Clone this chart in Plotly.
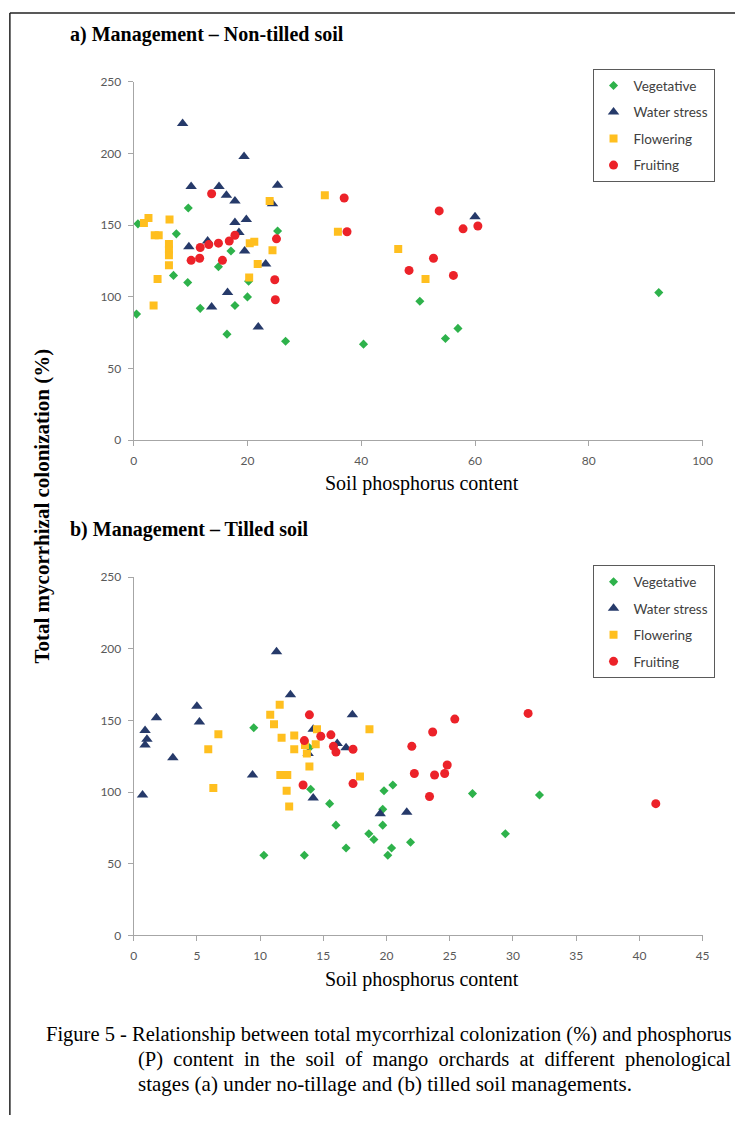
import plotly.graph_objects as go

# ---------------- Data: (a) Non-tilled soil ----------------
a_veg_x = [0.75, 0.5, 9.6, 7.5, 7.0, 9.5, 11.7, 17.1, 14.9, 17.8, 20.0, 25.3, 20.2, 16.4, 26.7, 50.3, 57.0, 54.8, 40.4, 92.3]
a_veg_y = [151, 88, 162, 144, 115, 110, 92, 132, 121, 94, 100, 146, 111, 74, 69, 97, 78, 71, 67, 103]

a_ws_x = [8.6, 19.4, 10.1, 15.0, 16.3, 17.8, 25.3, 24.4, 17.8, 19.8, 18.5, 13.0, 9.7, 19.5, 23.2, 16.5, 13.7, 21.9, 60.0]
a_ws_y = [221, 198, 177, 177, 171, 167, 178, 165, 152, 154, 145, 139, 135, 132, 123, 103, 93, 79, 156]

a_fl_x = [2.6, 1.8, 6.3, 3.7, 4.4, 6.2, 6.2, 6.2, 6.2, 4.2, 3.5, 23.9, 20.4, 21.2, 24.4, 21.8, 20.3, 33.6, 35.9, 46.5, 51.3]
a_fl_y = [155, 151.5, 154, 143, 143, 137, 133, 129, 122, 112.5, 94, 167, 137.5, 138.5, 132.5, 123, 113.5, 171, 145.5, 133.5, 112.5]

a_fr_x = [13.7, 17.8, 16.8, 14.9, 13.2, 11.7, 25.1, 10.1, 11.6, 15.6, 24.8, 24.9, 37.0, 53.7, 37.5, 57.9, 60.5, 52.7, 48.4, 56.2]
a_fr_y = [172, 143, 139, 137.5, 136.5, 134.5, 140.5, 125.5, 127, 125.5, 112, 98, 169, 160, 145.5, 147.5, 149.5, 127, 118.5, 115]

# ---------------- Data: (b) Tilled soil ----------------
b_veg_x = [9.5, 10.3, 13.9, 14.0, 15.5, 16.0, 13.5, 16.8, 18.6, 19.0, 19.7, 19.7, 19.8, 20.5, 20.4, 20.1, 21.9, 26.8, 32.1, 29.4]
b_veg_y = [145, 56, 131, 102, 92, 77, 56, 61, 71, 67, 88, 77, 101, 105, 61, 56, 65, 99, 98, 71]

b_ws_x = [11.3, 12.4, 5.0, 1.8, 5.2, 0.9, 1.05, 0.9, 3.1, 9.4, 0.7, 17.3, 14.2, 16.1, 16.8, 13.8, 14.2, 19.5, 21.6]
b_ws_y = [198, 168, 160, 152, 149, 143, 137, 133, 124, 112, 98, 154, 144, 134, 131, 127, 96, 85, 86]

b_fl_x = [11.55, 10.8, 11.1, 6.7, 11.7, 12.7, 5.9, 12.7, 11.6, 12.15, 12.1, 12.3, 6.3, 14.5, 18.65, 14.4, 13.55, 13.7, 13.9, 17.9]
b_fl_y = [161, 154, 147.5, 140.5, 138, 139.5, 130, 130, 112, 112, 101, 90, 103, 144, 144, 133.5, 133, 127, 118, 111]

b_fr_x = [13.9, 14.8, 15.6, 13.5, 15.8, 16.0, 17.35, 22.0, 23.65, 25.4, 13.4, 17.35, 22.2, 23.8, 24.8, 24.6, 23.4, 31.2, 41.3]
b_fr_y = [154, 139, 140, 136, 132, 128, 130, 132, 142, 151, 105, 106, 113, 112, 119, 113, 97, 155, 92]

series_names = ["Vegetative", "Water stress", "Flowering", "Fruiting"]
x_ticks_a = [0, 20, 40, 60, 80, 100]
x_ticks_b = [0, 5, 10, 15, 20, 25, 30, 35, 40, 45]
y_ticks = [0, 50, 100, 150, 200, 250]

styles = [
    dict(symbol="diamond", color="#2eb24b", size=7),
    dict(symbol="triangle-up", color="#263a6a", size=10),
    dict(symbol="square", color="#ffbf1f", size=8),
    dict(symbol="circle", color="#ec2229", size=9),
]

fig = go.Figure()

a_sets = [(a_veg_x, a_veg_y), (a_ws_x, a_ws_y), (a_fl_x, a_fl_y), (a_fr_x, a_fr_y)]
b_sets = [(b_veg_x, b_veg_y), (b_ws_x, b_ws_y), (b_fl_x, b_fl_y), (b_fr_x, b_fr_y)]

for i, (name, (xs, ys)) in enumerate(zip(series_names, a_sets)):
    st = styles[i]
    fig.add_trace(go.Scatter(x=xs, y=ys, mode="markers", name=name,
                             marker=dict(symbol=st["symbol"], color=st["color"], size=st["size"]),
                             xaxis="x", yaxis="y", legend="legend", legendgroup="a%d" % i))
for i, (name, (xs, ys)) in enumerate(zip(series_names, b_sets)):
    st = styles[i]
    fig.add_trace(go.Scatter(x=xs, y=ys, mode="markers", name=name,
                             marker=dict(symbol=st["symbol"], color=st["color"], size=st["size"]),
                             xaxis="x2", yaxis="y2", legend="legend2", legendgroup="b%d" % i))

W, H = 745, 1122
def px_x(p):
    return p / W
def px_y(p):
    return 1 - p / H

axis_common = dict(showgrid=False, zeroline=False, showline=True, linecolor="#a6a6a6", linewidth=1,
                   ticks="outside", ticklen=5, tickcolor="#a6a6a6",
                   tickfont=dict(family="Lato", size=12, color="#595959"))

legend_common = dict(xanchor="left", yanchor="top", bgcolor="white", bordercolor="#5a5a5a", borderwidth=1,
                     font=dict(family="Lato", size=13.5, color="#404040"), tracegroupgap=6,
                     itemwidth=30)

fig.update_layout(
    width=W, height=H, margin=dict(l=0, r=0, t=0, b=0),
    paper_bgcolor="white", plot_bgcolor="white",
    xaxis=dict(domain=[px_x(133), px_x(712)], range=[0, 100], tickvals=x_ticks_a, anchor="y",
               ticklabelstandoff=4, **axis_common),
    yaxis=dict(domain=[px_y(438), px_y(75)], range=[0, 250], tickvals=y_ticks, anchor="x",
               ticklabelstandoff=4, **axis_common),
    xaxis2=dict(domain=[px_x(133), px_x(712)], range=[0, 45], tickvals=x_ticks_b, anchor="y2",
                ticklabelstandoff=4, **axis_common),
    yaxis2=dict(domain=[px_y(940), px_y(577)], range=[0, 250], tickvals=y_ticks, anchor="x2",
                ticklabelstandoff=4, **axis_common),
    legend=dict(x=px_x(600), y=px_y(62), **legend_common),
    legend2=dict(x=px_x(600), y=px_y(565), **legend_common),
    showlegend=True,
)

serif = "Liberation Serif"
cap1 = "Figure 5 - Relationship between total mycorrhizal colonization (%) and phosphorus"
cap2 = "(P) content in the soil of mango orchards at different phenological"
cap3 = "stages (a) under no-tillage and (b) tilled soil managements."
cap2_justified = cap2.replace(" ", "&nbsp; ")

annotations = [
    dict(text="<b>a) Management – Non-tilled soil</b>", x=px_x(66), y=px_y(27), xanchor="left", yanchor="middle",
         font=dict(family=serif, size=20, color="black")),
    dict(text="<b>b) Management – Tilled soil</b>", x=px_x(66), y=px_y(529), xanchor="left", yanchor="middle",
         font=dict(family=serif, size=20, color="black")),
    dict(text="Soil phosphorus content", x=px_x(426), y=px_y(482), xanchor="center", yanchor="middle",
         font=dict(family=serif, size=20, color="black")),
    dict(text="Soil phosphorus content", x=px_x(426), y=px_y(985), xanchor="center", yanchor="middle",
         font=dict(family=serif, size=20, color="black")),
    dict(text="<b>Total mycorrhizal colonization (%)</b>", x=px_x(40), y=px_y(505), xanchor="center", yanchor="middle",
         textangle=-90, font=dict(family=serif, size=21, color="black")),
    dict(text=cap1, x=px_x(42), y=px_y(1040), xanchor="left", yanchor="middle",
         font=dict(family=serif, size=20.5, color="black")),
    dict(text=cap2_justified, x=px_x(135), y=px_y(1066), xanchor="left", yanchor="middle",
         font=dict(family=serif, size=20.5, color="black")),
    dict(text=cap3, x=px_x(135), y=px_y(1091), xanchor="left", yanchor="middle",
         font=dict(family=serif, size=21, color="black")),
]
for a in annotations:
    a.update(xref="paper", yref="paper", showarrow=False)
fig.update_layout(annotations=annotations)

fig.update_layout(shapes=[
    dict(type="line", xref="paper", yref="paper", x0=px_x(7), x1=1.0, y0=px_y(5), y1=px_y(5),
         line=dict(color="#222222", width=1.5)),
    dict(type="line", xref="paper", yref="paper", x0=px_x(7), x1=px_x(7), y0=0, y1=px_y(5),
         line=dict(color="#222222", width=1.5)),
])

fig.write_html("out.html")
